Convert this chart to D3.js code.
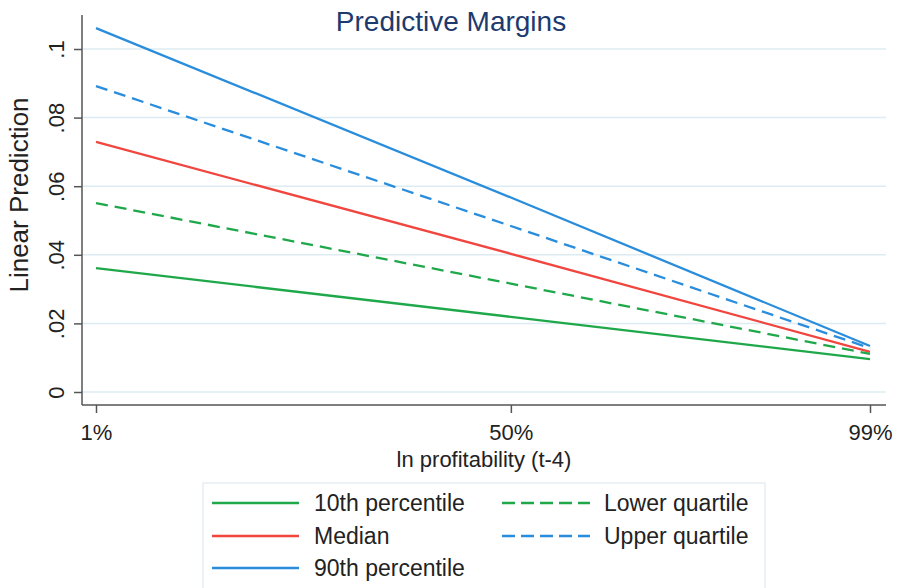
<!DOCTYPE html>
<html lang="en">
<head>
<meta charset="UTF-8">
<title>Predictive Margins</title>
<script src="https://cdn.jsdelivr.net/npm/d3@7"></script>
<style>
  body { margin: 0; background: #fff; }
  text { font-family: "Liberation Sans", Arial, sans-serif; }
</style>
</head>
<body>
<div id="chart"></div>
<script>
// data
const xCats = ["1%", "50%", "99%"];
// where each percentile sits on the ln profitability axis (0 = 1st pct, 1 = 99th pct)
const xPos = [0, 0.536, 1];
const seriesNames = ["10th percentile", "Median", "90th percentile", "Lower quartile", "Upper quartile"];
const p10 = [0.0361, 0.0219, 0.0096];
const median = [0.0729, 0.0403, 0.0117];
const p90 = [0.1061, 0.0567, 0.0134];
const lowerQ = [0.0551, 0.0316, 0.0111];
const upperQ = [0.0892, 0.0484, 0.0128];
const yTicks = [0, 0.02, 0.04, 0.06, 0.08, 0.1];
const yTickLabels = ["0", ".02", ".04", ".06", ".08", ".1"];

const green = "#1fa84a", red = "#f0463f", blue = "#2a8ddb";
const series = [
  {name: seriesNames[0], values: p10, color: green, dash: null},
  {name: seriesNames[1], values: median, color: red, dash: null},
  {name: seriesNames[2], values: p90, color: blue, dash: null},
  {name: seriesNames[3], values: lowerQ, color: green, dash: "12,7"},
  {name: seriesNames[4], values: upperQ, color: blue, dash: "12,7"}
];

const width = 897, height = 588;
const svg = d3.select("#chart").append("svg").attr("width", width).attr("height", height);

const plotLeft = 82, plotRight = 886, plotTop = 15, plotBottom = 405;

const x = d3.scaleLinear().domain([0, 1]).range([96, 870]);
const y = d3.scaleLinear().domain([0, 0.1]).range([392, 49]);

// gridlines
svg.append("g").selectAll("line").data(yTicks).join("line")
  .attr("x1", plotLeft).attr("x2", plotRight)
  .attr("y1", d => y(d)).attr("y2", d => y(d))
  .attr("stroke", "#dcecf2").attr("stroke-width", 1.5);

// y axis
const yAxis = svg.append("g").attr("transform", `translate(${plotLeft},0)`)
  .call(d3.axisLeft(y).tickValues(yTicks).tickSize(8).tickPadding(0).tickFormat((d, i) => yTickLabels[i]));
yAxis.select(".domain").attr("d", `M0,${plotTop}V${plotBottom}`).attr("stroke", "#555").attr("stroke-width", 1.5);
yAxis.selectAll(".tick line").attr("stroke", "#555").attr("stroke-width", 1.5);
yAxis.selectAll(".tick text")
  .attr("x", 0).attr("y", 0).attr("dy", null)
  .attr("transform", "translate(-18,0) rotate(-90)")
  .attr("text-anchor", "middle")
  .attr("font-size", 22).attr("fill", "#222");

// x axis
const xAxis = svg.append("g").attr("transform", `translate(0,${plotBottom})`)
  .call(d3.axisBottom(x).tickValues(xPos).tickSize(8).tickPadding(0).tickFormat((d, i) => xCats[i]));
xAxis.select(".domain").attr("d", `M${plotLeft},0H${plotRight}`).attr("stroke", "#555").attr("stroke-width", 1.5);
xAxis.selectAll(".tick line").attr("stroke", "#555").attr("stroke-width", 1.5);
xAxis.selectAll(".tick text").attr("y", 35).attr("dy", null)
  .attr("font-size", 22).attr("fill", "#222");

// axis titles
svg.append("text").attr("x", 484).attr("y", 467).attr("text-anchor", "middle")
  .attr("font-size", 22).attr("fill", "#222").text("ln profitability (t-4)");
svg.append("text").attr("transform", "translate(28,195) rotate(-90)").attr("text-anchor", "middle")
  .attr("font-size", 26).attr("fill", "#222").text("Linear Prediction");

// title
svg.append("text").attr("x", 451).attr("y", 31).attr("text-anchor", "middle")
  .attr("font-size", 28).attr("fill", "#1d3a6e").text("Predictive Margins");

// lines
const line = d3.line().x((d, i) => x(xPos[i])).y(d => y(d));
svg.append("g").selectAll("path").data(series).join("path")
  .attr("d", d => line(d.values))
  .attr("fill", "none")
  .attr("stroke", d => d.color)
  .attr("stroke-width", 2.3)
  .attr("stroke-dasharray", d => d.dash);

// legend
const legend = svg.append("g");
legend.append("rect").attr("x", 203).attr("y", 483).attr("width", 562).attr("height", 120)
  .attr("fill", "#fff").attr("stroke", "#e2eaf0").attr("stroke-width", 1.2);
const legendPos = [
  {col: 0, row: 0}, {col: 0, row: 1}, {col: 0, row: 2},
  {col: 1, row: 0}, {col: 1, row: 1}
];
const colX = [[212, 299, 314], [502, 590, 604]];
const rowY = [503, 536, 568];
const items = legend.selectAll("g.item").data(series).join("g").attr("class", "item");
items.append("line")
  .attr("x1", (d, i) => colX[legendPos[i].col][0])
  .attr("x2", (d, i) => colX[legendPos[i].col][1])
  .attr("y1", (d, i) => rowY[legendPos[i].row])
  .attr("y2", (d, i) => rowY[legendPos[i].row])
  .attr("stroke", d => d.color).attr("stroke-width", 2.3)
  .attr("stroke-dasharray", d => d.dash ? "13,6" : null);
items.append("text")
  .attr("x", (d, i) => colX[legendPos[i].col][2])
  .attr("y", (d, i) => rowY[legendPos[i].row])
  .attr("dy", "0.35em")
  .attr("font-size", 23).attr("fill", "#222")
  .text(d => d.name);
</script>
</body>
</html>
